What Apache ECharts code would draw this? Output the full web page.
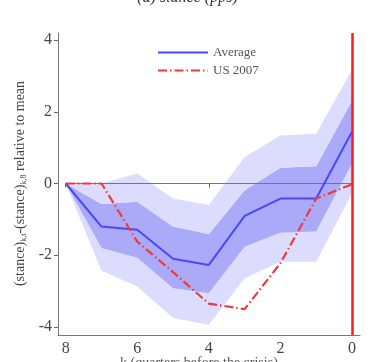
<!DOCTYPE html>
<html><head><meta charset="utf-8">
<script src="https://cdn.jsdelivr.net/npm/echarts@6/dist/echarts.min.js"></script>
<style>html,body{margin:0;padding:0;background:#fff}#c{width:375px;height:362px}</style>
</head><body><div id="c"></div>
<script>
const categories = ['8','7','6','5','4','3','2','1','0'];
const average   = [0, -1.2, -1.29, -2.1, -2.27, -0.9, -0.42, -0.42, 1.44];
const innerLow  = [0, -1.8, -2.07, -2.92, -3.06, -1.76, -1.37, -1.34, 0.56];
const innerHigh = [0, -0.57, -0.51, -1.2, -1.41, -0.19, 0.44, 0.48, 2.31];
const outerLow  = [0, -2.43, -2.87, -3.75, -3.94, -2.64, -2.18, -2.18, -0.28];
const outerHigh = [0, 0.0, 0.28, -0.42, -0.6, 0.74, 1.34, 1.39, 3.17];
const us2007    = [0, 0, -1.62, -2.47, -3.35, -3.5, -2.22, -0.42, -0.02];
const yTicks = [-4, -2, 0, 2, 4];

const serif = "'Liberation Serif','DejaVu Serif',serif";
const lightBand = '#dcdcff', darkBand = '#aaaaf8';
const diff = (a, b) => a.map((v, i) => +(v - b[i]).toFixed(3));

const chart = echarts.init(document.getElementById('c'), null, {renderer: 'canvas'});
chart.setOption({
  animation: false,
  title: [
    {text: '(a) stance (pps)', left: 'center', top: -15,
      textStyle: {fontFamily: serif, fontStyle: 'italic', fontWeight: 'normal', fontSize: 16, color: '#333'}},
    {text: 'k (quarters before the crisis)', left: 120, top: 356, padding: 0,
      textStyle: {fontFamily: serif, fontWeight: 'normal', fontSize: 14, color: '#555'}}
  ],
  legend: {
    data: ['Average', 'US 2007'], orient: 'vertical', left: 152, top: 41,
    itemWidth: 50, itemHeight: 12, itemGap: 5,
    itemStyle: {opacity: 0},
    textStyle: {fontFamily: serif, fontSize: 13, color: '#555'}
  },
  grid: [
    {left: 65.7, right: 23, top: 40, bottom: 35, outerBoundsMode: 'none', containLabel: false},
    {left: 58, right: 15, top: 33, bottom: 27, outerBoundsMode: 'none', containLabel: false}
  ],
  xAxis: [
    {type: 'category', gridIndex: 0, data: categories, boundaryGap: false, offset: 8,
      axisLine: {show: false},
      axisTick: {show: true, length: 4, lineStyle: {color: '#666'}},
      axisLabel: {interval: 1, margin: 6, fontFamily: serif, fontSize: 16, color: '#444'},
      splitLine: {show: false}},
    {type: 'value', gridIndex: 1, min: -0.22, max: 8.2, inverse: true,
      axisLine: {show: true, onZero: false, lineStyle: {color: '#777', width: 1}},
      axisTick: {show: false}, axisLabel: {show: false}, splitLine: {show: false}}
  ],
  yAxis: [
    {type: 'value', gridIndex: 0, min: -4, max: 4, interval: 2, offset: 7.7,
      axisLine: {show: false},
      axisTick: {show: true, length: 4, lineStyle: {color: '#666'}},
      axisLabel: {margin: 6, fontFamily: serif, fontSize: 16, color: '#444',
        formatter: v => yTicks.includes(v) ? String(v) : ''},
      splitLine: {show: false},
      name: '{a|(stance)}{s|k,t}{a|-(stance)}{s|k,8}{a| relative to mean}',
      nameLocation: 'middle', nameGap: 30,
      nameTextStyle: {rich: {
        a: {fontFamily: serif, fontSize: 14, color: '#444'},
        s: {fontFamily: serif, fontSize: 8, color: '#444', padding: [6, 0, 0, 0]}
      }}},
    {type: 'value', gridIndex: 1, min: -4.22, max: 4.22,
      axisLine: {show: true, onZero: false, lineStyle: {color: '#777', width: 1}},
      axisTick: {show: false}, axisLabel: {show: false}, splitLine: {show: false}}
  ],
  series: [
    {name: 'b0', type: 'line', stack: 'band', stackStrategy: 'all', data: outerLow,
      symbol: 'none', lineStyle: {width: 0, opacity: 0}, silent: true},
    {name: 'b1', type: 'line', stack: 'band', stackStrategy: 'all', data: diff(innerLow, outerLow),
      symbol: 'none', lineStyle: {width: 0, opacity: 0}, areaStyle: {color: lightBand, opacity: 1}, silent: true},
    {name: 'b2', type: 'line', stack: 'band', stackStrategy: 'all', data: diff(innerHigh, innerLow),
      symbol: 'none', lineStyle: {width: 0, opacity: 0}, areaStyle: {color: darkBand, opacity: 1}, silent: true},
    {name: 'b3', type: 'line', stack: 'band', stackStrategy: 'all', data: diff(outerHigh, innerHigh),
      symbol: 'none', lineStyle: {width: 0, opacity: 0}, areaStyle: {color: lightBand, opacity: 1}, silent: true,
      markLine: {silent: true, symbol: 'none', label: {show: false},
        lineStyle: {color: '#777', width: 1, type: 'solid'}, data: [{yAxis: 0}]}},
    {name: 'Average', type: 'line', data: average, symbol: 'none', z: 5,
      itemStyle: {color: '#4848f8'}, lineStyle: {color: '#4848f8', width: 2}},
    {name: 'US 2007', type: 'line', data: us2007, symbol: 'none', z: 6,
      itemStyle: {color: '#f03a3a'}, lineStyle: {color: '#f03a3a', width: 2.2, type: [9, 3, 1.5, 3]}},
    {name: 'frame', type: 'line', xAxisIndex: 1, yAxisIndex: 1, data: [[0, 0]], symbol: 'none',
      lineStyle: {opacity: 0}, z: 7,
      markLine: {silent: true, symbol: 'none', label: {show: false},
        lineStyle: {color: '#ff1a1a', width: 2.5, type: 'solid'}, data: [{xAxis: 0}]}}
  ]
});
</script></body></html>
